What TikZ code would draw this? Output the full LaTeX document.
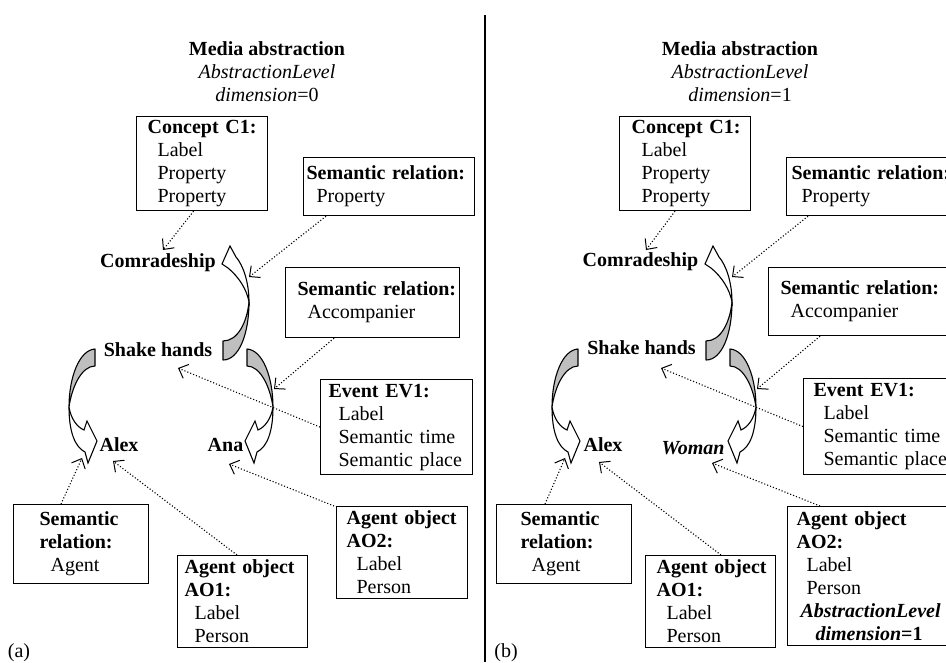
\documentclass[tikz,border=0pt]{standalone}
\usepackage{fontspec}
\setmainfont{Liberation Serif}
\usetikzlibrary{arrows.meta}
\newcommand\figfont{\fontsize{20pt}{23pt}\selectfont}
\newcommand\ind{\hspace*{10pt}}

% The three twisted block arrows between the event, the relation and the agents;
% #1 prefixes the names of the points that the dotted pointers aim at.
\newcommand\twistarrows[1]{%
  % Shake hands -> Comradeship
  \path[backface] (223,341) -- (223,360) .. controls (239,360) and (249,334) .. (249,302)
        .. controls (247,322) and (238,341) .. (223,341) -- cycle;
  \path[frontface] (249,302) .. controls (249,282) and (243,265) .. (236,257) -- (230,246)
        -- (222,264) -- (228,268) .. controls (239,277) and (247,290) .. (249,302) -- cycle;
  % Shake hands -> Alex
  \path[backface] (95,349) .. controls (79,350) and (69,378) .. (69,407)
        .. controls (72,386) and (82,366) .. (95,366) -- cycle;
  \path[frontface] (69,407) .. controls (71,419) and (77,427) .. (84,430) -- (87,421)
        -- (97,441) -- (88,463) -- (85,452) .. controls (75,447) and (69,432) .. (69,407) -- cycle;
  % Shake hands -> second agent
  \path[backface] (247,349) .. controls (263,350) and (273,378) .. (273,407)
        .. controls (270,386) and (260,366) .. (247,366) -- cycle;
  \path[frontface] (273,407) .. controls (271,419) and (265,427) .. (258,430) -- (255,421)
        -- (245,441) -- (254,463) -- (257,452) .. controls (267,447) and (273,432) .. (273,407) -- cycle;
  \coordinate (#1relp) at (249,277);
  \coordinate (#1accp) at (274,389);
  \coordinate (#1agtp) at (82,458);
}

\begin{document}
\begin{tikzpicture}[x=1pt,y=-1pt,
  every node/.style={font=\figfont},
  box/.style n args={3}{draw, line width=1.2pt, anchor=north west, align=left,
    inner xsep=0pt, inner ysep=0pt, text width=#1, minimum height=#2,
    execute at begin node={\leftskip=#3\relax}},
  ttl/.style={align=center, inner sep=0pt},
  lbl/.style={font=\figfont\bfseries, inner sep=0pt},
  backface/.style={fill=black!25, draw=black, line width=1.1pt, line join=round},
  frontface/.style={fill=white, draw=black, line width=1.1pt, line join=miter},
  rel/.style={line width=1.1pt, dash pattern=on 1.1pt off 2pt,
    -{Straight Barb[length=8pt,width=15pt,line width=1pt]}},
  divider/.style={line width=1.2pt}]
\useasboundingbox (0,0) rectangle (946,662);
\clip (0,0) rectangle (946,662);

% ---------------- panel (a) ----------------
\twistarrows{A}
\node[ttl] (ttlA) at (267,72) {\textbf{Media abstraction}\\\textit{AbstractionLevel}\\\textit{dimension}=0};
\node[box={131pt}{94pt}{11pt}] (c1A) at (136,116) {\textbf{Concept C1:}\\\ind Label\\\ind Property\\\ind Property};
\node[box={171pt}{58pt}{3pt}] (srpA) at (303,157) {\textbf{Semantic relation:}\\\ind Property};
\node[box={174pt}{70pt}{12pt}] (sraA) at (285,267) {\textbf{Semantic relation:}\\\ind Accompanier};
\node[box={152pt}{95pt}{8pt}] (evA) at (320,379) {\textbf{Event EV1:}\\\ind Label\\\ind Semantic time\\\ind Semantic place};
\node[box={135pt}{79pt}{26pt}] (sagA) at (13,504) {\textbf{Semantic}\\\textbf{relation:}\\\hspace*{11pt}Agent};
\node[box={130pt}{92pt}{7pt}] (ao1A) at (177,555) {\textbf{Agent object}\\\textbf{AO1:}\\\ind Label\\\ind Person};
\node[box={131pt}{92pt}{10pt}] (ao2A) at (336,506) {\textbf{Agent object}\\\textbf{AO2:}\\\ind Label\\\ind Person};
\node[lbl] (comrA) at (158,263) {Comradeship};
\node[lbl] (shkA) at (158,350) {Shake hands};
\node[lbl] (alexA) at (119,445) {Alex};
\node[lbl] (anaA) at (225.5,445) {Ana};
\node[inner sep=0pt] (capA) at (19,653) {(a)};

\draw[rel] ([shift={(-8.5,0)}]c1A.south) -- ([shift={(5,-13)}]comrA.center);
\draw[rel] ([shift={(23,0)}]srpA.south west) -- (Arelp);
\draw[rel] ([shift={(49,0)}]sraA.south west) -- (Aaccp);
\draw[rel] (evA.west) -- ([shift={(20,18)}]shkA.center);
\draw[rel] ([shift={(48,0)}]sagA.north west) -- (Aagtp);
\draw[rel] ([shift={(60,0)}]ao1A.north west) -- ([shift={(-6,16)}]alexA.center);
\draw[rel] ([shift={(-2,0)}]ao2A.north west) -- ([shift={(3.5,19)}]anaA.center);

% ---------------- divider ----------------
\coordinate (divtop) at (485,15);
\coordinate (divbot) at (485,662);
\draw[divider] (divtop) -- (divbot);

% ---------------- panel (b) ----------------
\begin{scope}[shift={(483,0)}]
  \twistarrows{B}
\end{scope}
\node[ttl] (ttlB) at (740,72) {\textbf{Media abstraction}\\\textit{AbstractionLevel}\\\textit{dimension}=1};
\node[box={131pt}{94pt}{12pt}] (c1B) at (619,116) {\textbf{Concept C1:}\\\ind Label\\\ind Property\\\ind Property};
\node[box={171pt}{58pt}{5pt}] (srpB) at (786,157) {\textbf{Semantic relation:}\\\ind Property};
\node[box={180pt}{68pt}{12pt}] (sraB) at (768,267) {\textbf{Semantic relation:}\\\ind Accompanier};
\node[box={160pt}{96pt}{10pt}] (evB) at (803,378) {\textbf{Event EV1:}\\\ind Label\\\ind Semantic time\\\ind Semantic place};
\node[box={135pt}{79pt}{24pt}] (sagB) at (496,504) {\textbf{Semantic}\\\textbf{relation:}\\\hspace*{11pt}Agent};
\node[box={130pt}{92pt}{11pt}] (ao1B) at (645,555) {\textbf{Agent object}\\\textbf{AO1:}\\\ind Label\\\ind Person};
\node[box={173pt}{139pt}{9pt}] (ao2B) at (787,506) {\textbf{Agent object}\\\textbf{AO2:}\\\ind Label\\\ind Person\\\hspace*{4pt}\textbf{\textit{AbstractionLevel}}\\\hspace*{19pt}\textbf{\textit{dimension}=1}};
\node[lbl] (comrB) at (640.5,262) {Comradeship};
\node[lbl] (shkB) at (641.5,348) {Shake hands};
\node[lbl] (alexB) at (603,445) {Alex};
\node[lbl] (womanB) at (693,448) {\textit{Woman}};
\node[inner sep=0pt] (capB) at (506,653) {(b)};

\draw[rel] ([shift={(56,0)}]c1B.south west) -- ([shift={(5.5,-12)}]comrB.center);
\draw[rel] ([shift={(22,0)}]srpB.south west) -- (Brelp);
\draw[rel] ([shift={(52,0)}]sraB.south west) -- (Baccp);
\draw[rel] (evB.west) -- ([shift={(19.5,20)}]shkB.center);
\draw[rel] ([shift={(49,0)}]sagB.north west) -- (Bagtp);
\draw[rel] ([shift={(76,0)}]ao1B.north west) -- ([shift={(-4,17)}]alexB.center);
\draw[rel] ([shift={(33,0)}]ao2B.north west) -- ([shift={(19,15)}]womanB.center);
\end{tikzpicture}
\end{document}
